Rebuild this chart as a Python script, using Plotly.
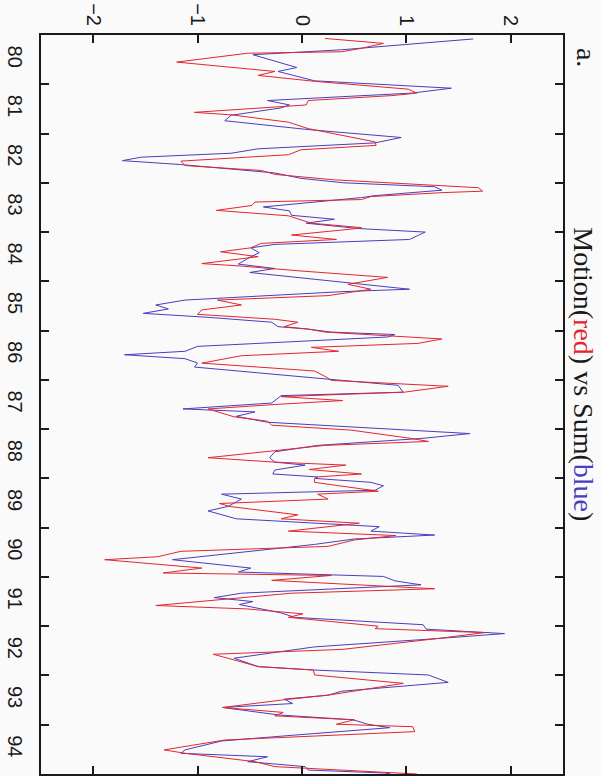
import plotly.graph_objects as go

# Motion series: (time in years since 1900, standardized value)
t_motion = [80.07, 80.17, 80.27, 80.34, 80.37, 80.55, 80.74, 80.82, 80.94, 81.10,
            81.18, 81.23, 81.33, 81.42, 81.57, 81.62, 81.77, 81.90, 82.17, 82.24,
            82.33, 82.43, 82.56, 82.65, 82.75, 82.83, 82.94, 83.10, 83.17, 83.20,
            83.28, 83.34, 83.39, 83.46, 83.56, 83.67, 83.82, 83.91, 83.94, 84.06,
            84.15, 84.23, 84.32, 84.40, 84.50, 84.64, 84.69, 84.79, 84.92, 85.06,
            85.16, 85.29, 85.38, 85.48, 85.58, 85.67, 85.77, 85.83, 85.92, 85.97,
            86.03, 86.17, 86.26, 86.34, 86.42, 86.51, 86.66, 86.82, 86.94, 87.01,
            87.13, 87.25, 87.34, 87.42, 87.50, 87.59, 87.75, 87.84, 87.92, 88.02,
            88.19, 88.25, 88.33, 88.58, 88.67, 88.73, 88.82, 88.91, 88.97, 89.02,
            89.08, 89.26, 89.32, 89.42, 89.51, 89.57, 89.74, 89.82, 89.91, 90.07,
            90.16, 90.25, 90.38, 90.48, 90.59, 90.65, 90.82, 90.92, 90.97, 91.07,
            91.24, 91.33, 91.58, 91.65, 91.75, 91.82, 92.00, 92.05, 92.13, 92.25,
            92.47, 92.57, 92.65, 92.82, 92.89, 92.99, 93.16, 93.30, 93.40, 93.50,
            93.65, 93.75, 93.82, 93.90, 93.99, 94.04, 94.14, 94.31, 94.51, 94.58,
            94.75, 94.85, 94.98, 95.00]
motion = [0.22, 0.78, 0.57, 0.38, -0.52, -1.20, -0.26, -0.42, 0.12, 1.02,
          1.10, 0.86, 0.06, 0.04, -1.03, -0.68, -0.13, 0.06, 0.70, 0.71,
          -0.01, -0.13, -1.16, -1.12, -0.39, -0.26, 0.31, 1.69, 1.73, 1.34,
          0.66, 0.57, -0.45, -0.48, -0.82, -0.13, 0.09, 0.57, 0.47, -0.10,
          0.33, -0.39, -0.49, -0.78, -0.42, -0.96, -0.58, -0.01, 0.82, 0.44,
          0.66, 0.25, -0.81, -0.58, -0.96, -1.00, -0.26, -0.04, -0.17, 0.06,
          0.22, 1.34, 1.11, 0.09, 0.35, -0.58, -0.96, 0.12, 0.23, 0.28,
          1.40, 0.98, -0.20, 0.39, -0.26, -0.90, -0.65, -0.33, -0.29, 0.47,
          1.05, 1.21, 0.22, -0.90, -0.26, 0.42, 0.07, 0.57, 0.15, 0.12,
          0.12, 0.73, 0.15, 0.25, -0.79, -0.69, -0.04, -0.20, 0.55, -0.13,
          0.90, 0.50, 0.25, -1.16, -1.38, -1.89, -0.96, -1.33, 0.28, -0.29,
          1.27, -0.10, -1.40, -0.52, 0.01, -0.13, 0.73, 0.70, 1.75, 1.30,
          0.39, -0.85, -0.71, -0.42, 0.11, 0.12, 0.97, 0.54, 0.25, -0.20,
          -0.76, -0.18, -0.26, 0.50, 0.33, 1.06, 1.08, -0.74, -1.32, -1.12,
          -0.45, -0.26, 1.02, 1.10]

# Sum series
t_sum = [80.08, 80.30, 80.40, 80.66, 80.74, 80.93, 81.08, 81.18, 81.33, 81.42,
         81.48, 81.63, 81.74, 81.92, 82.08, 82.19, 82.31, 82.40, 82.48, 82.55,
         82.63, 82.80, 82.91, 83.00, 83.08, 83.15, 83.26, 83.30, 83.49, 83.57,
         83.66, 83.74, 83.82, 83.93, 84.00, 84.15, 84.25, 84.32, 84.42, 84.50,
         84.65, 84.74, 84.82, 85.16, 85.21, 85.38, 85.48, 85.56, 85.65, 85.73,
         85.83, 85.92, 85.97, 86.03, 86.08, 86.13, 86.32, 86.42, 86.49, 86.57,
         86.66, 86.74, 86.98, 87.11, 87.25, 87.32, 87.47, 87.59, 87.65, 87.74,
         87.86, 88.09, 88.19, 88.33, 88.46, 88.58, 88.67, 88.73, 88.83, 88.91,
         88.97, 89.00, 89.08, 89.15, 89.24, 89.32, 89.42, 89.57, 89.66, 89.82,
         89.98, 90.07, 90.15, 90.23, 90.34, 90.48, 90.65, 90.82, 90.90, 90.99,
         91.08, 91.16, 91.33, 91.42, 91.50, 91.56, 91.73, 91.82, 91.97, 92.06,
         92.15, 92.25, 92.42, 92.65, 92.82, 92.89, 92.99, 93.14, 93.32, 93.40,
         93.48, 93.57, 93.65, 93.80, 93.90, 93.99, 94.06, 94.21, 94.33, 94.51,
         94.58, 94.65, 94.75, 94.85, 94.92, 94.98, 95.00]
total = [1.64, 0.38, -0.47, -0.05, -0.23, 0.12, 1.43, 1.05, -0.33, -0.12,
         -0.20, -0.68, -0.74, 0.06, 0.95, 0.70, -0.42, -0.68, -1.54, -1.72,
         -1.16, -0.26, -0.01, 0.40, 1.27, 1.34, 0.70, 0.57, -0.37, -0.12,
         -0.10, 0.31, 0.04, 0.55, 1.18, 1.03, -0.26, -0.49, -0.41, -0.49,
         -0.61, -0.26, -0.50, 1.03, 0.38, -1.12, -1.40, -1.28, -1.52, -0.90,
         -0.29, -0.23, 0.06, 0.28, 0.89, 0.82, -1.00, -1.12, -1.70, -1.12,
         -1.00, -1.03, 0.22, 0.92, 0.97, -0.20, -0.29, -1.14, -0.45, -0.63,
         -0.33, 1.61, 1.14, 0.15, -0.26, -0.31, -0.26, 0.03, -0.26, -0.28,
         0.15, 0.12, 0.66, 0.78, 0.70, -0.77, -0.58, -0.71, -0.90, -0.63,
         0.74, 0.66, 1.27, 0.50, 0.12, -0.49, -1.24, -0.49, -0.61, 0.78,
         0.89, 1.14, -0.58, -0.84, -0.47, -0.60, -0.20, -0.07, 1.16, 1.19,
         1.94, 1.30, 0.12, -0.65, -0.42, 0.12, 1.21, 1.40, 0.38, 0.25,
         -0.17, -0.09, -0.76, -0.23, 0.49, 0.63, 0.84, -0.07, -0.77, -1.12,
         -1.16, -0.33, -0.52, 0.03, 0.06, 0.79, 0.85]

years = list(range(80, 95))
year_labels = [str(y) for y in years]
year_bounds = list(range(81, 95))
value_ticks = [-2, -1, 0, 1, 2]
time_range = [95, 80]

RED = "#e2262e"
BLUE = "#4a3dbd"
AXIS = "#1a1a1a"
BG = "#fafafb"

fig = go.Figure()
# Sum on the primary time axis (carries the year-boundary ticks)
fig.add_trace(go.Scatter(x=total, y=t_sum, mode="lines", yaxis="y",
                         line=dict(color=BLUE, width=1), showlegend=False))
# Motion on the overlaid time axis (carries the year labels, centred in each year)
fig.add_trace(go.Scatter(x=motion, y=t_motion, mode="lines", yaxis="y2",
                         line=dict(color=RED, width=1), showlegend=False))

fig.update_layout(
    width=601, height=776,
    margin=dict(l=41, r=38, t=35, b=0),
    paper_bgcolor=BG, plot_bgcolor=BG,
    font=dict(family="Liberation Sans, Arial, sans-serif", size=20, color=AXIS),
    xaxis=dict(
        range=[-2.5, 2.5], side="top",
        tickmode="array", tickvals=value_ticks,
        ticks="inside", ticklen=8, tickwidth=2, tickcolor=AXIS,
        tickangle=90, showgrid=False, zeroline=False,
        showline=True, linecolor=AXIS, linewidth=2, mirror="ticks",
    ),
    yaxis=dict(
        range=time_range,
        tickmode="array", tickvals=year_bounds, showticklabels=False,
        ticks="inside", ticklen=8, tickwidth=2, tickcolor=AXIS,
        showgrid=False, zeroline=False,
        showline=True, linecolor=AXIS, linewidth=2, mirror="ticks",
    ),
    yaxis2=dict(
        range=time_range, overlaying="y", side="left",
        tickmode="array", tickvals=[y + 0.5 for y in years], ticktext=year_labels,
        ticks="", tickangle=90, ticklabelstandoff=12,
        showgrid=False, zeroline=False, showline=False,
    ),
)

fig.add_annotation(
    xref="paper", yref="paper", x=1.04, y=0.541,
    text=f"Motion(<span style='color:{RED}'>red</span>) vs Sum(<span style='color:{BLUE}'>blue</span>)",
    textangle=90, showarrow=False, xanchor="center", yanchor="middle",
    font=dict(family="Liberation Serif, Times New Roman, serif", size=28, color=AXIS),
)
fig.add_annotation(
    xref="paper", yref="paper", x=1.044, y=0.969,
    text="a.", textangle=90, showarrow=False, xanchor="center", yanchor="middle",
    font=dict(family="Liberation Serif, Times New Roman, serif", size=28, color=AXIS),
)

fig.write_html("out.html")
